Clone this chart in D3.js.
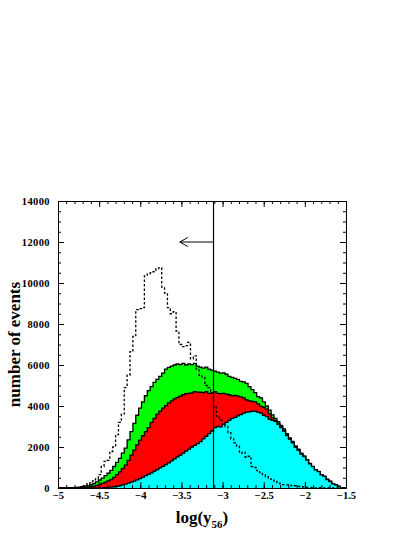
<!DOCTYPE html>
<html>
<head>
<meta charset="utf-8">
<script src="https://cdn.jsdelivr.net/npm/d3@7"></script>
<style>
  body { margin: 0; background: #fff; }
  svg { display: block; }
  text { font-family: "Liberation Serif", "Times New Roman", serif; font-weight: bold; }
</style>
</head>
<body>
<svg id="chart"></svg>
<script>
// histogram binning: 100 bins from -5 to -1.5
const binStart = -5;
const binWidth = 0.035;

// top of the green histogram (all events)
const totalCounts = [
  0, 0, 0, 5, 10, 20, 30, 45, 65, 90,
  120, 160, 220, 300, 390, 480, 600, 720, 860, 1050,
  1250, 1450, 1700, 1950, 2350, 2750, 3150, 3550, 3900, 4200,
  4500, 4750, 4950, 5150, 5300, 5450, 5600, 5800, 5880, 5950,
  6000, 6050, 6020, 6080, 6000, 6050, 6020, 6080, 5950, 5900,
  5850, 5900, 5800, 5750, 5700, 5650, 5600, 5620, 5550, 5450,
  5400, 5350, 5300, 5200, 5180, 5100, 4950, 4800, 4650, 4460,
  4400, 4200, 4000, 3800, 3570, 3400, 3240, 3050, 2880, 2650,
  2450, 2270, 2050, 1900, 1700, 1560, 1380, 1200, 1050, 900,
  810, 650, 570, 420, 320, 200, 150, 80, 20, 0
];

// top of the red histogram
const redCounts = [
  0, 0, 0, 0, 5, 10, 15, 20, 30, 35,
  40, 60, 90, 130, 180, 230, 290, 350, 420, 520,
  650, 790, 950, 1120, 1350, 1600, 1850, 2100, 2340, 2550,
  2750, 2950, 3200, 3400, 3600, 3750, 3900, 4020, 4150, 4250,
  4350, 4420, 4480, 4550, 4600, 4620, 4640, 4700, 4680, 4670,
  4650, 4700, 4620, 4640, 4700, 4620, 4600, 4620, 4580, 4550,
  4500, 4520, 4480, 4450, 4400, 4300, 4250, 4220, 4200, 4100,
  3980, 3950, 3850, 3620, 3420, 3300, 3150, 2990, 2800, 2580,
  2400, 2210, 2000, 1850, 1660, 1535, 1360, 1180, 1040, 890,
  800, 645, 565, 415, 318, 198, 148, 78, 18, 0
];

// top of the cyan histogram
const cyanCounts = [
  0, 0, 0, 0, 0, 0, 0, 0, 0, 0,
  0, 0, 0, 0, 5, 10, 20, 30, 45, 60,
  80, 110, 150, 190, 240, 290, 340, 400, 460, 530,
  600, 670, 740, 820, 900, 980, 1060, 1140, 1230, 1320,
  1420, 1520, 1600, 1700, 1800, 1900, 2000, 2080, 2160, 2260,
  2400, 2520, 2650, 2780, 2950, 3000, 2980, 3100, 3200, 3300,
  3400, 3450, 3520, 3580, 3650, 3700, 3720, 3750, 3740, 3700,
  3650, 3550, 3480, 3350, 3300, 3250, 3100, 2950, 2780, 2560,
  2380, 2200, 1990, 1840, 1650, 1530, 1360, 1180, 1040, 890,
  800, 645, 565, 415, 318, 198, 148, 78, 18, 0
];

// dotted histogram
const dottedCounts = [
  0, 0, 0, 0, 0, 10, 20, 30, 60, 100,
  200, 250, 350, 450, 650, 1050, 1300, 1350, 1780, 2000,
  2600, 3200, 3600, 4900, 5500, 6650, 7400, 8700, 8750, 8800,
  10350, 10450, 10500, 10550, 10700, 10750, 9800, 9500, 8800, 8500,
  8600, 7650, 7000, 6900, 6950, 7100, 6300, 6450, 5800, 5500,
  5400, 5000, 4900, 4650, 3950, 3500, 3300, 3100, 3000, 2700,
  2400, 2200, 2050, 1700, 1750, 1500, 1550, 1050, 1000, 850,
  750, 650, 550, 450, 380, 320, 250, 200, 160, 150,
  140, 100, 110, 80, 60, 40, 30, 30, 20, 10,
  20, 10, 0, 0, 0, 0, 0, 0, 0, 0
];

const xTicks = [-5, -4.5, -4, -3.5, -3, -2.5, -2, -1.5];
const yTicks = [0, 2000, 4000, 6000, 8000, 10000, 12000, 14000];

// cut line and arrow
const cutValue = -3.11;
const arrowEnd = -3.52;
const arrowLevel = 12000;

const width = 415;
const height = 537;
const margin = { top: 201, right: 69, bottom: 49, left: 58 };

const svg = d3.select("#chart")
    .attr("width", width)
    .attr("height", height);

const x = d3.scaleLinear()
    .domain([-5, -1.5])
    .range([margin.left, width - margin.right]);

const y = d3.scaleLinear()
    .domain([0, 14000])
    .range([height - margin.bottom, margin.top]);

function stepPoints(counts) {
    const pts = counts.map((v, i) => [binStart + i * binWidth, v]);
    pts.push([binStart + counts.length * binWidth, counts[counts.length - 1]]);
    return pts;
}

const area = d3.area()
    .curve(d3.curveStepAfter)
    .x(d => x(d[0]))
    .y0(y(0))
    .y1(d => y(d[1]));

const line = d3.line()
    .curve(d3.curveStepAfter)
    .x(d => x(d[0]))
    .y(d => y(d[1]));

const layers = [
    { counts: totalCounts, color: "#00ff00" },
    { counts: redCounts, color: "#ff0000" },
    { counts: cyanCounts, color: "#00ffff" }
];

layers.forEach(l => {
    svg.append("path")
        .attr("d", area(stepPoints(l.counts)))
        .attr("fill", l.color);
    svg.append("path")
        .attr("d", line(stepPoints(l.counts)))
        .attr("fill", "none")
        .attr("stroke", "#000")
        .attr("stroke-width", 1.3);
});

// dotted histogram
svg.append("path")
    .attr("d", line(stepPoints(dottedCounts)))
    .attr("fill", "none")
    .attr("stroke", "#000")
    .attr("stroke-width", 1.3)
    .attr("stroke-dasharray", "2.5,2");

// cut line
svg.append("line")
    .attr("x1", x(cutValue)).attr("x2", x(cutValue))
    .attr("y1", y(0)).attr("y2", y(14000))
    .attr("stroke", "#000")
    .attr("stroke-width", 1.2);

// arrow
svg.append("line")
    .attr("x1", x(cutValue)).attr("x2", x(arrowEnd))
    .attr("y1", y(arrowLevel)).attr("y2", y(arrowLevel))
    .attr("stroke", "#000")
    .attr("stroke-width", 1);
svg.append("path")
    .attr("d", `M${x(arrowEnd) + 8},${y(arrowLevel) - 4.5}L${x(arrowEnd)},${y(arrowLevel)}L${x(arrowEnd) + 8},${y(arrowLevel) + 4.5}`)
    .attr("fill", "none")
    .attr("stroke", "#000")
    .attr("stroke-width", 1);

// axes: ticks point inwards on all four sides
const minorX = d3.range(-5, -1.5 + 1e-9, 0.1);
const minorY = d3.range(0, 14001, 500);

function addAxis(axis, transform) {
    const g = svg.append("g")
        .attr("transform", transform)
        .call(axis);
    g.select(".domain").attr("stroke-width", 1);
    g.selectAll(".tick line").attr("stroke-width", 1);
    return g;
}

const plotBottom = height - margin.bottom;
const plotRight = width - margin.right;

// bottom
addAxis(d3.axisBottom(x).tickValues(minorX).tickSize(-3).tickSizeOuter(0).tickFormat(""), `translate(0,${plotBottom})`);
addAxis(d3.axisBottom(x).tickValues(xTicks).tickSize(-6).tickSizeOuter(0).tickPadding(4).tickFormat(d3.format("")), `translate(0,${plotBottom})`)
    .selectAll("text").attr("font-size", 10.5).attr("fill", "#000");
// top
addAxis(d3.axisTop(x).tickValues(minorX).tickSize(-3).tickSizeOuter(0).tickFormat(""), `translate(0,${margin.top})`);
addAxis(d3.axisTop(x).tickValues(xTicks).tickSize(-6).tickSizeOuter(0).tickFormat(""), `translate(0,${margin.top})`);
// left
addAxis(d3.axisLeft(y).tickValues(minorY).tickSize(-3).tickSizeOuter(0).tickFormat(""), `translate(${margin.left},0)`);
addAxis(d3.axisLeft(y).tickValues(yTicks).tickSize(-6).tickSizeOuter(0).tickPadding(8).tickFormat(d3.format("")), `translate(${margin.left},0)`)
    .selectAll("text").attr("font-size", 10.5).attr("letter-spacing", 0.4).attr("fill", "#000");
// right
addAxis(d3.axisRight(y).tickValues(minorY).tickSize(-3).tickSizeOuter(0).tickFormat(""), `translate(${plotRight},0)`);
addAxis(d3.axisRight(y).tickValues(yTicks).tickSize(-6).tickSizeOuter(0).tickFormat(""), `translate(${plotRight},0)`);

// axis titles
svg.append("text")
    .attr("transform", `translate(20,${(margin.top + plotBottom) / 2}) rotate(-90)`)
    .attr("text-anchor", "middle")
    .attr("font-size", 17)
    .text("number of events");

const xTitle = svg.append("text")
    .attr("x", (margin.left + plotRight) / 2)
    .attr("y", 523)
    .attr("text-anchor", "middle")
    .attr("font-size", 17);
xTitle.append("tspan").text("log(y");
xTitle.append("tspan").attr("font-size", 11).attr("dy", 5).text("56");
xTitle.append("tspan").attr("dy", -5).text(")");
</script>
</body>
</html>
